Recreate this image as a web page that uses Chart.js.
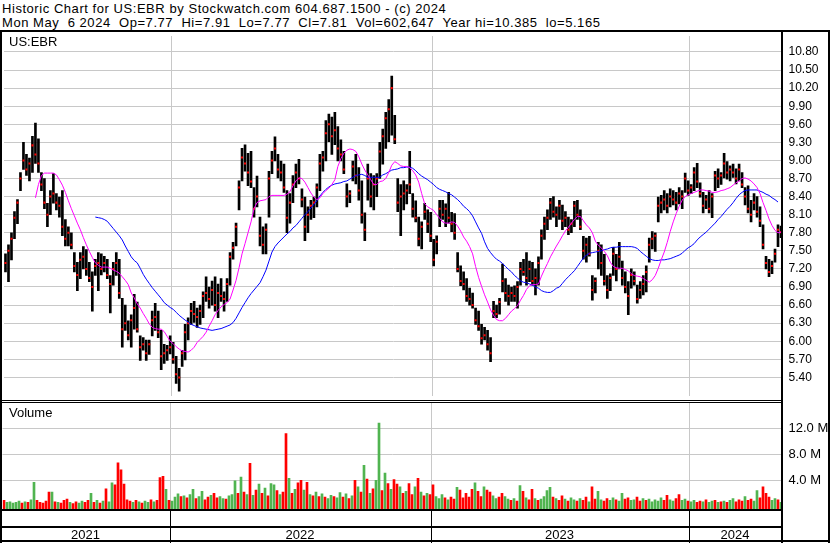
<!DOCTYPE html>
<html>
<head>
<meta charset="utf-8">
<script src="https://cdn.jsdelivr.net/npm/chart.js@4.4.1/dist/chart.umd.min.js"></script>
<style>
  body { margin: 0; background: #fff; }
  #wrap { position: relative; width: 830px; height: 543px; overflow: hidden; background: #fff;
          font-family: "Liberation Sans", Arial, sans-serif; color: #000; }
  canvas { position: absolute; left: 0; }
  .txt { position: absolute; white-space: pre; font-size: 13px; line-height: 15px; z-index: 3; }
  .head { letter-spacing: 0.55px; }
  .ln { position: absolute; background: #000; z-index: 4; }
</style>
</head>
<body>
<div id="wrap">
  <div class="txt head" style="left:2px;top:1px;">Historic Chart for US:EBR by Stockwatch.com 604.687.1500 - (c) 2024</div>
  <div class="txt head" style="left:2px;top:15px;">Mon May  6 2024  Op=7.77  Hi=7.91  Lo=7.77  Cl=7.81  Vol=602,647  Year hi=10.385  lo=5.165</div>
  <div class="txt" style="left:9px;top:34px;">US:EBR</div>
  <div class="txt" style="left:9px;top:405px;">Volume</div>

  <canvas id="priceChart" width="830" height="368" style="top:32px;width:830px;height:368px;"></canvas>
  <canvas id="volChart" width="830" height="141" style="top:402px;width:830px;height:141px;"></canvas>

  <div class="ln" style="left:0;top:30px;width:830px;height:2px;"></div>
  <div class="ln" style="left:0;top:30px;width:2px;height:513px;"></div>
  <div class="ln" style="left:828px;top:30px;width:2px;height:513px;"></div>
  <div class="ln" style="left:781px;top:30px;width:2px;height:513px;"></div>
  <div class="ln" style="left:0;top:400px;width:782px;height:1px;"></div>
  <div class="ln" style="left:0;top:402px;width:782px;height:1px;"></div>
  <div class="ln" style="left:0;top:509px;width:782px;height:2px;"></div>
  <div class="ln" style="left:0;top:526px;width:782px;height:2px;"></div>
  <div class="ln" style="left:0;top:540px;width:830px;height:2px;"></div>
</div>

<script>
// one slot = roughly three trading days, May 2021 .. May 2024
const years = ["2021", "2022", "2023", "2024"];
const yearStart = [0, 56, 143, 229];

const highs = [
  7.45, 7.60, 7.80, 8.15, 8.35, 8.80, 9.30, 9.10, 9.04, 9.40,
  9.62, 9.36, 8.80, 8.70, 8.29, 8.50, 8.78, 8.45, 8.39, 8.50,
  8.02, 7.90, 7.80, 7.47, 7.31, 7.47, 7.57, 7.52, 7.31, 7.15,
  7.36, 7.47, 7.45, 7.41, 7.36, 7.09, 7.31, 7.47, 7.36, 6.71,
  6.60, 6.34, 6.44, 6.78, 6.65, 6.09, 6.06, 6.02, 6.02, 6.50,
  6.63, 6.50, 6.18, 5.95, 5.93, 6.09, 5.98, 5.75, 5.55, 5.85,
  6.28, 6.39, 6.63, 6.66, 6.55, 6.60, 6.82, 7.07, 6.90, 7.00,
  7.07, 6.95, 7.04, 6.82, 7.04, 7.47, 7.64, 7.96, 8.66, 9.20,
  9.26, 9.12, 9.15, 8.55, 8.74, 8.06, 7.90, 7.95, 8.82, 9.15,
  9.39, 9.10, 8.99, 8.94, 8.50, 8.45, 8.75, 8.94, 9.02, 8.53,
  8.39, 8.23, 8.34, 8.39, 8.61, 9.10, 9.15, 9.66, 9.77, 9.72,
  9.80, 9.56, 9.34, 9.15, 8.61, 8.50, 8.99, 9.10, 8.88, 8.66,
  8.13, 8.94, 8.78, 8.75, 8.78, 9.30, 9.52, 9.80, 10.01, 10.40,
  9.75, 8.70, 8.60, 8.66, 8.60, 9.15, 8.45, 8.33, 8.06, 7.98,
  8.29, 8.18, 8.14, 7.69, 7.75, 8.34, 8.34, 8.28, 8.47, 8.14,
  8.12, 7.47, 7.25, 7.15, 7.04, 6.88, 6.80, 6.55, 6.50, 6.28,
  6.23, 6.18, 6.06, 6.66, 6.60, 6.71, 7.28, 7.04, 6.93, 6.90,
  6.92, 6.99, 7.31, 7.36, 7.47, 7.33, 7.31, 7.20, 7.40, 7.85,
  8.06, 8.18, 8.37, 8.40, 8.23, 8.34, 8.26, 8.15, 8.06, 8.02,
  8.32, 8.34, 8.18, 7.74, 7.71, 7.74, 7.09, 7.05, 7.64, 7.60,
  7.44, 7.09, 7.12, 7.56, 7.44, 7.64, 7.33, 7.15, 6.99, 7.20,
  7.15, 6.93, 6.99, 7.09, 7.25, 7.71, 7.82, 7.80, 8.39, 8.42,
  8.50, 8.45, 8.53, 8.50, 8.47, 8.55, 8.50, 8.79, 8.66, 8.60,
  8.88, 8.95, 8.63, 8.47, 8.42, 8.50, 8.45, 8.82, 8.86, 8.80,
  9.12, 8.98, 8.91, 8.94, 8.86, 8.94, 8.80, 8.55, 8.58, 8.34,
  8.45, 8.40, 8.23, 7.93, 7.41, 7.36, 7.33, 7.53, 7.93, 7.91
];

const lows = [
  7.15, 6.99, 7.35, 7.70, 7.95, 8.50, 8.85, 8.75, 8.66, 8.80,
  8.95, 8.80, 8.50, 8.20, 7.90, 8.10, 8.29, 8.18, 8.06, 7.75,
  7.58, 7.58, 7.53, 7.15, 6.84, 7.04, 7.20, 7.09, 6.99, 6.50,
  7.09, 6.84, 7.10, 7.15, 7.04, 6.47, 6.93, 7.09, 6.71, 5.90,
  6.18, 6.02, 5.90, 6.20, 6.15, 5.68, 5.85, 5.68, 5.78, 6.09,
  6.18, 6.06, 5.53, 5.63, 5.68, 5.79, 5.63, 5.30, 5.17, 5.58,
  5.69, 6.02, 6.28, 6.31, 6.23, 6.28, 6.39, 6.66, 6.55, 6.60,
  6.50, 6.39, 6.66, 6.50, 6.66, 6.93, 7.36, 7.58, 8.18, 8.66,
  8.82, 8.58, 8.55, 8.06, 8.23, 7.58, 7.45, 7.45, 8.06, 8.78,
  8.99, 8.71, 8.66, 8.47, 7.80, 7.96, 8.30, 8.55, 8.61, 8.23,
  7.67, 7.80, 8.02, 8.05, 8.23, 8.50, 8.82, 8.99, 9.31, 9.10,
  9.26, 8.99, 8.99, 8.78, 8.23, 8.30, 8.66, 8.61, 8.34, 7.96,
  7.67, 8.34, 8.23, 8.18, 8.40, 8.70, 8.94, 9.20, 9.31, 9.42,
  9.28, 8.15, 7.75, 8.18, 8.28, 8.45, 8.06, 7.98, 7.58, 7.53,
  8.02, 7.80, 7.65, 7.25, 7.45, 7.90, 8.02, 7.90, 7.96, 7.82,
  7.69, 7.15, 6.92, 6.85, 6.66, 6.60, 6.55, 6.28, 6.18, 5.95,
  6.02, 5.85, 5.66, 6.39, 6.39, 6.45, 6.82, 6.66, 6.60, 6.66,
  6.66, 6.55, 6.93, 7.09, 6.93, 6.99, 6.93, 6.77, 6.93, 7.36,
  7.69, 7.85, 8.02, 8.06, 7.90, 8.02, 7.85, 7.90, 7.77, 7.80,
  7.90, 8.02, 7.85, 7.36, 7.31, 7.41, 6.68, 6.80, 7.20, 7.09,
  6.93, 6.71, 6.84, 7.09, 7.00, 7.20, 6.93, 6.80, 6.44, 6.88,
  6.93, 6.63, 6.71, 6.77, 6.82, 7.31, 7.53, 7.49, 7.98, 8.13,
  8.18, 8.13, 8.23, 8.26, 8.18, 8.28, 8.20, 8.47, 8.42, 8.45,
  8.50, 8.55, 8.39, 8.13, 8.20, 8.13, 8.05, 8.50, 8.55, 8.60,
  8.71, 8.69, 8.66, 8.72, 8.61, 8.66, 8.55, 8.26, 8.13, 7.98,
  8.18, 8.06, 7.90, 7.53, 7.20, 7.07, 7.12, 7.31, 7.57, 7.72
];

// closing ticks (the red marks)
const closes = [
  7.30, 7.50, 7.70, 8.05, 8.30, 8.70, 9.00, 8.85, 8.95, 9.25,
  9.10, 8.95, 8.60, 8.30, 8.10, 8.40, 8.45, 8.30, 8.25, 7.90,
  7.70, 7.80, 7.60, 7.25, 7.10, 7.35, 7.40, 7.20, 7.05, 6.90,
  7.25, 7.30, 7.20, 7.30, 7.10, 6.95, 7.20, 7.30, 6.80, 6.20,
  6.30, 6.10, 6.35, 6.55, 6.20, 5.90, 5.95, 5.80, 5.95, 6.35,
  6.40, 6.15, 5.75, 5.80, 5.85, 5.90, 5.70, 5.45, 5.40, 5.80,
  6.15, 6.30, 6.50, 6.45, 6.40, 6.50, 6.75, 6.80, 6.70, 6.85,
  6.60, 6.80, 6.75, 6.70, 6.95, 7.40, 7.55, 7.90, 8.55, 9.05,
  8.95, 8.80, 8.65, 8.20, 8.40, 7.75, 7.60, 7.85, 8.70, 9.00,
  9.20, 8.85, 8.80, 8.55, 8.05, 8.30, 8.60, 8.80, 8.70, 8.35,
  7.90, 8.10, 8.25, 8.30, 8.55, 8.95, 9.05, 9.45, 9.60, 9.40,
  9.50, 9.20, 9.10, 8.85, 8.40, 8.45, 8.90, 8.75, 8.50, 8.10,
  7.85, 8.70, 8.40, 8.60, 8.70, 9.15, 9.40, 9.70, 9.85, 10.20,
  9.35, 8.30, 8.40, 8.45, 8.50, 8.60, 8.20, 8.05, 7.70, 7.90,
  8.15, 7.95, 7.75, 7.35, 7.65, 8.20, 8.10, 8.20, 8.05, 7.95,
  7.80, 7.20, 7.00, 6.95, 6.75, 6.70, 6.60, 6.35, 6.25, 6.05,
  6.10, 5.95, 5.80, 6.50, 6.45, 6.65, 7.00, 6.80, 6.75, 6.80,
  6.75, 6.90, 7.20, 7.15, 7.05, 7.20, 7.00, 7.05, 7.30, 7.75,
  7.95, 8.05, 8.30, 8.15, 8.10, 8.25, 8.00, 8.05, 7.85, 7.95,
  8.25, 8.10, 7.90, 7.50, 7.60, 7.45, 6.85, 7.00, 7.50, 7.30,
  7.00, 6.85, 7.05, 7.45, 7.20, 7.40, 7.05, 6.90, 6.75, 7.10,
  7.00, 6.70, 6.85, 6.95, 7.15, 7.60, 7.70, 7.75, 8.25, 8.30,
  8.35, 8.25, 8.40, 8.35, 8.30, 8.45, 8.40, 8.70, 8.50, 8.55,
  8.80, 8.65, 8.45, 8.25, 8.35, 8.20, 8.40, 8.75, 8.70, 8.75,
  8.95, 8.80, 8.85, 8.80, 8.70, 8.85, 8.60, 8.40, 8.20, 8.10,
  8.30, 8.15, 8.00, 7.60, 7.30, 7.15, 7.25, 7.45, 7.85, 7.81
];

// magenta (short) moving average
const maShort = [
  null, null, null, null, null, null, null, null, null, null,
  8.38, 8.60, 8.75, 8.79, 8.79, 8.79, 8.79, 8.76, 8.68, 8.59,
  8.47, 8.33, 8.20, 8.08, 7.96, 7.85, 7.72, 7.60, 7.49, 7.39,
  7.30, 7.26, 7.23, 7.23, 7.23, 7.21, 7.18, 7.16, 7.13, 7.07,
  7.01, 6.94, 6.80, 6.72, 6.62, 6.55, 6.46, 6.38, 6.29, 6.23,
  6.21, 6.20, 6.20, 6.16, 6.08, 6.00, 5.96, 5.91, 5.87, 5.84,
  5.83, 5.82, 5.85, 5.90, 5.98, 6.03, 6.08, 6.15, 6.25, 6.34,
  6.44, 6.51, 6.57, 6.61, 6.64, 6.70, 6.85, 7.01, 7.22, 7.45,
  7.62, 7.80, 7.98, 8.20, 8.30, 8.33, 8.34, 8.35, 8.40, 8.42,
  8.42, 8.42, 8.42, 8.42, 8.44, 8.48, 8.58, 8.66, 8.71, 8.70,
  8.64, 8.55, 8.46, 8.39, 8.35, 8.38, 8.45, 8.50, 8.54, 8.60,
  8.68, 8.90, 9.03, 9.12, 9.17, 9.19, 9.18, 9.15, 9.06, 8.94,
  8.84, 8.76, 8.68, 8.60, 8.60, 8.65, 8.66, 8.70, 8.80, 8.92,
  8.98, 8.95, 8.91, 8.90, 8.90, 8.88, 8.83, 8.76, 8.64, 8.45,
  8.28, 8.23, 8.20, 8.17, 8.10, 8.04, 7.98, 7.96, 7.96, 7.98,
  7.97, 7.91, 7.83, 7.73, 7.66, 7.57, 7.45, 7.24, 7.06, 6.91,
  6.77, 6.65, 6.52, 6.43, 6.36, 6.34, 6.34, 6.38, 6.44, 6.50,
  6.54, 6.59, 6.68, 6.76, 6.86, 6.92, 6.94, 6.94, 6.95, 7.08,
  7.19, 7.29, 7.40, 7.49, 7.58, 7.66, 7.75, 7.83, 7.89, 7.96,
  8.02, 8.07, 8.07, 8.00, 7.93, 7.88, 7.80, 7.66, 7.59, 7.55,
  7.49, 7.42, 7.31, 7.24, 7.22, 7.21, 7.21, 7.19, 7.17, 7.12,
  7.09, 7.08, 7.07, 7.04, 7.01, 6.98, 7.02, 7.09, 7.21, 7.35,
  7.48, 7.64, 7.82, 7.98, 8.12, 8.24, 8.34, 8.40, 8.43, 8.45,
  8.47, 8.49, 8.51, 8.51, 8.50, 8.49, 8.47, 8.47, 8.48, 8.50,
  8.51, 8.53, 8.55, 8.59, 8.63, 8.66, 8.70, 8.71, 8.69, 8.66,
  8.61, 8.55, 8.45, 8.30, 8.17, 8.03, 7.92, 7.84, 7.80, 7.81
];

// blue (long) moving average
const maLong = [
  null, null, null, null, null, null, null, null, null, null,
  null, null, null, null, null, null, null, null, null, null,
  null, null, null, null, null, null, null, null, null, null,
  8.06, 8.05, 8.04, 8.02, 7.99, 7.93, 7.87, 7.81, 7.75, 7.68,
  7.58, 7.49, 7.40, 7.34, 7.30, 7.21, 7.11, 7.03, 6.96, 6.89,
  6.83, 6.77, 6.71, 6.64, 6.60, 6.56, 6.53, 6.48, 6.43, 6.39,
  6.35, 6.32, 6.28, 6.26, 6.24, 6.22, 6.21, 6.20, 6.19, 6.18,
  6.19, 6.20, 6.21, 6.23, 6.25, 6.27, 6.31, 6.38, 6.47, 6.56,
  6.64, 6.72, 6.79, 6.85, 6.91, 6.97, 7.07, 7.18, 7.33, 7.48,
  7.57, 7.63, 7.68, 7.73, 7.78, 7.82, 7.88, 7.92, 7.98, 8.04,
  8.10, 8.15, 8.21, 8.27, 8.33, 8.41, 8.47, 8.52, 8.56, 8.59,
  8.61, 8.62, 8.63, 8.65, 8.66, 8.69, 8.72, 8.75, 8.76, 8.77,
  8.75, 8.72, 8.72, 8.72, 8.72, 8.72, 8.76, 8.78, 8.81, 8.84,
  8.85, 8.86, 8.88, 8.88, 8.89, 8.89, 8.87, 8.83, 8.78, 8.74,
  8.71, 8.68, 8.64, 8.60, 8.55, 8.52, 8.50, 8.48, 8.45, 8.43,
  8.39, 8.35, 8.30, 8.24, 8.20, 8.15, 8.08, 7.98, 7.88, 7.79,
  7.65, 7.54, 7.47, 7.41, 7.36, 7.33, 7.29, 7.24, 7.19, 7.15,
  7.09, 7.05, 7.00, 6.98, 6.97, 6.95, 6.93, 6.90, 6.88, 6.84,
  6.82, 6.81, 6.81, 6.84, 6.88, 6.90, 6.96, 7.02, 7.07, 7.12,
  7.17, 7.24, 7.31, 7.38, 7.43, 7.46, 7.47, 7.48, 7.49, 7.50,
  7.52, 7.53, 7.55, 7.56, 7.56, 7.57, 7.57, 7.57, 7.57, 7.57,
  7.56, 7.54, 7.49, 7.45, 7.41, 7.37, 7.35, 7.34, 7.34, 7.35,
  7.35, 7.36, 7.37, 7.39, 7.41, 7.43, 7.46, 7.51, 7.55, 7.58,
  7.62, 7.68, 7.73, 7.77, 7.81, 7.86, 7.91, 7.96, 8.02, 8.07,
  8.13, 8.19, 8.24, 8.30, 8.37, 8.43, 8.47, 8.50, 8.51, 8.51,
  8.51, 8.51, 8.49, 8.47, 8.44, 8.42, 8.38, 8.35, 8.31, null
];

// volume in millions of shares, g = up day, r = down day
const volume = [
  0.9, 0.6, 0.7, 0.5, 0.6, 0.8, 0.5, 0.7, 0.6, 1.0,
  3.7, 0.9, 0.6, 0.5, 0.8, 2.2, 2.2, 0.7, 0.6, 0.5,
  0.9, 1.1, 0.6, 0.4, 0.7, 0.5, 0.8, 0.6, 0.9, 2.0,
  0.6, 0.9, 0.5, 0.8, 2.7, 0.7, 3.6, 3.3, 6.7, 5.6,
  3.4, 1.0, 0.8, 0.6, 0.9, 0.7, 0.5, 0.8, 0.6, 1.0,
  0.7, 0.9, 4.4, 4.6, 2.6, 0.9, 0.8, 1.4, 1.9, 1.5,
  1.6, 1.3, 1.8, 2.6, 1.2, 1.5, 2.3, 1.0, 1.4, 1.7,
  2.0, 1.3, 1.5, 1.2, 1.1, 1.6, 1.8, 3.9, 2.0, 4.5,
  2.2, 1.8, 6.6, 1.7, 2.5, 3.4, 2.0, 2.8, 1.6, 3.5,
  3.3, 2.4, 1.8, 2.2, 11.2, 4.3, 2.0, 2.6, 3.6, 4.0,
  2.5, 3.7, 1.8, 1.6, 2.2, 1.5, 1.9, 1.4, 1.2, 1.7,
  1.5, 1.3, 2.1, 1.4, 1.9, 1.2, 1.6, 4.0, 3.0, 2.2,
  6.3, 4.2, 2.0, 2.7, 4.0, 12.8, 2.4, 5.1, 3.5, 2.6,
  4.1, 3.4, 3.0, 2.0, 2.3, 3.5, 1.8, 3.0, 4.3, 2.2,
  1.6, 2.0, 1.8, 3.3, 1.5, 1.2, 1.8, 1.3, 1.0, 1.4,
  1.1, 2.9, 2.5, 1.3, 2.0, 1.4, 2.6, 3.6, 2.3, 1.5,
  3.0, 2.5, 2.2, 1.6, 1.2, 1.4, 2.0, 1.5, 1.1, 0.9,
  1.2, 0.8, 3.2, 2.3, 1.3, 1.0, 2.6, 1.2, 0.9, 1.1,
  1.5, 2.4, 2.9, 1.4, 1.2, 0.9, 1.6, 1.1, 0.8, 1.3,
  1.0, 0.8, 1.2, 0.9, 1.4, 0.7, 3.0, 1.1, 2.3, 1.0,
  0.8, 1.2, 0.9, 1.3, 1.0, 0.8, 2.0, 1.1, 1.3, 0.9,
  1.0, 1.4, 0.8, 1.2, 0.9, 1.1, 0.7, 1.0, 0.8, 1.3,
  0.9, 1.7, 1.0, 0.8, 1.2, 1.8, 0.9, 1.1, 0.8, 0.7,
  0.9, 0.6, 0.8, 0.7, 1.0, 0.6, 0.8, 0.9, 0.6, 0.7,
  0.8, 0.6, 0.9, 1.2, 0.7, 1.0, 0.8, 1.5, 0.9, 1.1,
  0.8, 2.4, 1.3, 3.0, 2.0, 1.4, 0.9, 1.2, 1.0, 0.6
];

const volDir = (
  "rgggggrgrg" + "grrrrrgrgr" + "rrgrrggrrg" + "rgrgrggrrr" +
  "rrrgrgrggr" + "grrrgrgggr" + "grggrggrrg" + "rrggrgggrg" +
  "rgrgrgrgrg" + "grgrrgrgrr" + "grgrgrgrgg" + "rggrgrgrgr" +
  "grgrggrgrg" + "rrgrgrrgrg" + "rgrrgggrgr" + "rgrrrrrgrr" +
  "grrggrrggr" + "grgrgrrgrg" + "gggrgrrgrg" + "grgrrgrrgg" +
  "rrggrggrrg" + "grrgrggggg" + "rrggrrggrg" + "grrgrggrgr" +
  "grggrrrgrr" + "ggrrrrggrg"
).split("");

const priceTicks = [5.40, 5.70, 6.00, 6.30, 6.60, 6.90, 7.20, 7.50, 7.80, 8.10,
                    8.40, 8.70, 9.00, 9.30, 9.60, 9.90, 10.20, 10.50, 10.80];
const volTicks = [4, 8, 12];

const slots = highs.map((_, i) => String(i));
const gridGray = "#c8c8c8";

// x axis: no own grid, year separators come from the plugin below
const xScale = {
  type: "category",
  offset: true,
  grid: { display: false },
  ticks: { display: false, autoSkip: false },
  border: { display: false },
};

const fitRight = (s) => {
  s.width = 47.5;
  s.paddingTop = 0;
  s.paddingBottom = 0;
};

// gray year lines inside the plot
const yearGrid = {
  id: "yearGrid",
  beforeDatasetsDraw(chart) {
    const { ctx, chartArea, scales } = chart;
    const half = (scales.x.getPixelForValue(1) - scales.x.getPixelForValue(0)) / 2;
    ctx.save();
    ctx.strokeStyle = gridGray;
    ctx.lineWidth = 1;
    yearStart.slice(1).forEach((idx) => {
      const x = Math.floor(scales.x.getPixelForValue(idx) - half) + 0.5;
      ctx.beginPath();
      ctx.moveTo(x, chartArea.top);
      ctx.lineTo(x, chartArea.bottom);
      ctx.stroke();
    });
    ctx.restore();
  },
};

// price panel
new Chart(document.getElementById("priceChart"), {
  data: {
    labels: slots,
    datasets: [
      {
        type: "line",
        data: maShort,
        borderColor: "#ff00ff",
        borderWidth: 1,
        pointRadius: 0,
        order: 0,
      },
      {
        type: "line",
        data: maLong,
        borderColor: "#0000ff",
        borderWidth: 1,
        pointRadius: 0,
        order: 1,
      },
      {
        type: "line",
        data: closes,
        showLine: false,
        pointStyle: "rect",
        pointRadius: 1.42,
        pointBorderWidth: 0,
        pointBackgroundColor: "#ff0000",
        order: 2,
      },
      {
        type: "bar",
        data: highs.map((h, i) => [lows[i], h]),
        backgroundColor: "#000",
        barThickness: 2,
        order: 3,
      },
    ],
  },
  options: {
    responsive: false,
    animation: false,
    devicePixelRatio: 1,
    layout: { padding: { left: 2.5, right: 0, top: 0, bottom: 0 } },
    plugins: { legend: { display: false }, tooltip: { enabled: false } },
    scales: {
      x: { ...xScale, afterFit: (s) => { s.height = 0; s.paddingLeft = 0; s.paddingRight = 0; } },
      y: {
        position: "right",
        min: 5.091,
        max: 11.065,
        afterBuildTicks: (s) => { s.ticks = priceTicks.map((v) => ({ value: v })); },
        afterFit: fitRight,
        grid: { color: gridGray, drawTicks: false },
        border: { display: false },
        ticks: {
          font: { family: "Liberation Sans, Arial, sans-serif", size: 12 },
          color: "#000",
          padding: 6,
          callback: (v) => Number(v).toFixed(2),
        },
      },
    },
  },
  plugins: [yearGrid],
});

// year labels and separators under the volume panel
const yearBand = {
  id: "yearBand",
  afterDraw(chart) {
    const { ctx, chartArea, scales } = chart;
    const half = (scales.x.getPixelForValue(1) - scales.x.getPixelForValue(0)) / 2;
    ctx.save();
    ctx.fillStyle = "#000";
    ctx.font = "13px Liberation Sans, Arial, sans-serif";
    ctx.textAlign = "center";
    ctx.textBaseline = "middle";
    years.forEach((yr, k) => {
      const x0 = scales.x.getPixelForValue(yearStart[k]) - half;
      const x1 = k + 1 < years.length
        ? scales.x.getPixelForValue(yearStart[k + 1]) - half
        : chartArea.right;
      if (k > 0) ctx.fillRect(Math.floor(x0), chartArea.bottom, 1, chart.height - chartArea.bottom);
      ctx.fillText(yr, (x0 + x1) / 2 - 1, chartArea.bottom + 26);
    });
    ctx.restore();
  },
};

// volume panel
new Chart(document.getElementById("volChart"), {
  type: "bar",
  data: {
    labels: slots,
    datasets: [
      {
        data: volume,
        base: -0.42,
        backgroundColor: volDir.map((d) => (d === "g" ? "#50b450" : "#ff0000")),
        barThickness: 2,
      },
    ],
  },
  options: {
    responsive: false,
    animation: false,
    devicePixelRatio: 1,
    layout: { padding: { left: 2.5, right: 0, top: 0, bottom: 0 } },
    plugins: { legend: { display: false }, tooltip: { enabled: false } },
    scales: {
      x: { ...xScale, afterFit: (s) => { s.height = 34; s.paddingLeft = 0; s.paddingRight = 0; } },
      y: {
        position: "right",
        min: -0.42,
        max: 16.05,
        afterBuildTicks: (s) => { s.ticks = volTicks.map((v) => ({ value: v })); },
        afterFit: fitRight,
        grid: { color: gridGray, drawTicks: false },
        border: { display: false },
        ticks: {
          font: { family: "Liberation Sans, Arial, sans-serif", size: 13 },
          color: "#000",
          padding: 6,
          callback: (v) => Number(v).toFixed(1) + " M",
        },
      },
    },
  },
  plugins: [yearGrid, yearBand],
});
</script>
</body>
</html>
